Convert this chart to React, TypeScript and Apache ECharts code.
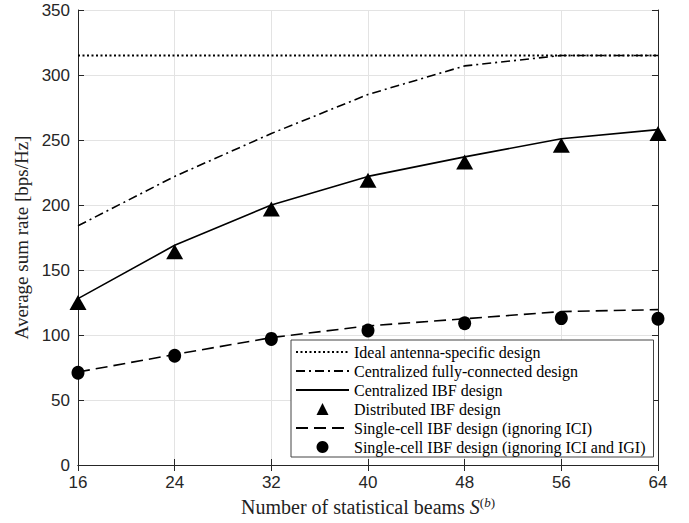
import React, { useEffect, useRef } from "react";
import * as echarts from "echarts";

const beams = [16, 24, 32, 40, 48, 56, 64];
const idealAntenna = [315, 315, 315, 315, 315, 315, 315];
const fullyConnected = [184, 222, 255, 285, 307, 315, 315];
const centralizedIBF = [128, 169, 200, 222, 237, 251, 258];
const distributedIBF = [125, 164, 197, 219, 233, 246, 255];
const singleCellICI = [71.5, 85, 98, 107, 112.5, 118, 119.5];
const singleCellICIIGI = [71, 84, 97, 103.5, 109, 113, 112.5];

const seriesNames = [
  "Ideal antenna-specific design",
  "Centralized fully-connected design",
  "Centralized IBF design",
  "Distributed IBF design",
  "Single-cell IBF design (ignoring ICI)",
  "Single-cell IBF design (ignoring ICI and IGI)",
];

const pair = (ys: number[]) => beams.map((x, i) => [x, ys[i]]);

const SANS = "'Liberation Sans', Arial, Helvetica, sans-serif";
const SERIF = "'Liberation Serif', 'Times New Roman', serif";
const AX = "#262626";

export default function App() {
  const ref = useRef<HTMLDivElement>(null);
  useEffect(() => {
    document.body.style.margin = "0";
    const chart = echarts.init(ref.current!, null, { renderer: "svg" });
    const lineSeries = (name: string, data: number[], dash: number[] | string, width = 1.6) => ({
      name,
      type: "line",
      data: pair(data),
      showSymbol: false,
      symbol: "none",
      lineStyle: { color: "#000", width, type: dash },
      itemStyle: { color: "#000" },
      z: 3,
    });
    const markerSeries = (name: string, data: number[], symbol: string, size: number | number[]) => ({
      name,
      type: "line",
      data: pair(data),
      showSymbol: true,
      symbol,
      symbolSize: size,
      lineStyle: { color: "#000", width: 0, opacity: 0 },
      itemStyle: { color: "#000", opacity: 1 },
      z: 4,
    });
    const axisCommon = {
      axisLine: { show: true, lineStyle: { color: AX, width: 1 } },
      axisTick: { show: true, inside: true, length: 6, lineStyle: { color: AX } },
    };
    const lineItem = (name: string) => ({ name, itemStyle: { opacity: 0 } });
    const markItem = (name: string) => ({ name, lineStyle: { opacity: 0 } });
    chart.setOption({
      animation: false,
      backgroundColor: "#fff",
      grid: { left: 78, top: 10, width: 580, height: 455, containLabel: false },
      xAxis: [
        {
          type: "value",
          min: 16,
          max: 64,
          interval: 8,
          ...axisCommon,
          splitLine: { show: true, lineStyle: { color: "#e3e3e3", width: 1 } },
          axisLabel: { color: AX, fontFamily: SANS, fontSize: 17, margin: 9 },
          name: "{t|Number of statistical beams }{s|S}{p|(}{b|b}{p|)}",
          nameLocation: "middle",
          nameGap: 29,
          nameTextStyle: {
            rich: {
              t: { fontFamily: SERIF, fontSize: 20, color: "#222" },
              s: { fontFamily: SERIF, fontSize: 20, fontStyle: "italic", color: "#222" },
              p: { fontFamily: SERIF, fontSize: 13, color: "#222", padding: [0, 0, 10, 0] },
              b: { fontFamily: SERIF, fontSize: 13, fontStyle: "italic", color: "#222", padding: [0, 0, 10, 0] },
            },
          },
        },
        {
          type: "value",
          position: "top",
          min: 16,
          max: 64,
          interval: 8,
          ...axisCommon,
          splitLine: { show: false },
          axisLabel: { show: false },
        },
      ],
      yAxis: [
        {
          type: "value",
          min: 0,
          max: 350,
          interval: 50,
          ...axisCommon,
          splitLine: { show: true, lineStyle: { color: "#e3e3e3", width: 1 } },
          axisLabel: { color: AX, fontFamily: SANS, fontSize: 17, margin: 8 },
          name: "Average sum rate [bps/Hz]",
          nameLocation: "middle",
          nameGap: 44,
          nameTextStyle: { fontFamily: SERIF, fontSize: 19, color: "#222" },
        },
        {
          type: "value",
          position: "right",
          min: 0,
          max: 350,
          interval: 50,
          ...axisCommon,
          splitLine: { show: false },
          axisLabel: { show: false },
        },
      ],
      legend: {
        data: [
          lineItem(seriesNames[0]),
          lineItem(seriesNames[1]),
          lineItem(seriesNames[2]),
          markItem(seriesNames[3]),
          lineItem(seriesNames[4]),
          markItem(seriesNames[5]),
        ],
        orient: "vertical",
        left: 291,
        top: 340,
        itemWidth: 53,
        itemHeight: 15,
        itemGap: 3,
        padding: [4, 8, 2, 4],
        backgroundColor: "#fff",
        borderColor: "#444",
        borderWidth: 1,
        borderRadius: 0,
        textStyle: { fontFamily: SERIF, fontSize: 16, color: "#000" },
        selectedMode: false,
      },
      series: [
        lineSeries(seriesNames[0], idealAntenna, [2, 2.5], 2.2),
        lineSeries(seriesNames[1], fullyConnected, [9, 4, 2, 4]),
        lineSeries(seriesNames[2], centralizedIBF, "solid"),
        markerSeries(seriesNames[3], distributedIBF, "triangle", [17, 15]),
        lineSeries(seriesNames[4], singleCellICI, [12, 6]),
        markerSeries(seriesNames[5], singleCellICIIGI, "circle", [13, 14]),
      ],
    });
    return () => chart.dispose();
  }, []);
  return <div ref={ref} style={{ width: 689, height: 523, position: "fixed", left: 0, top: 0 }} />;
}
